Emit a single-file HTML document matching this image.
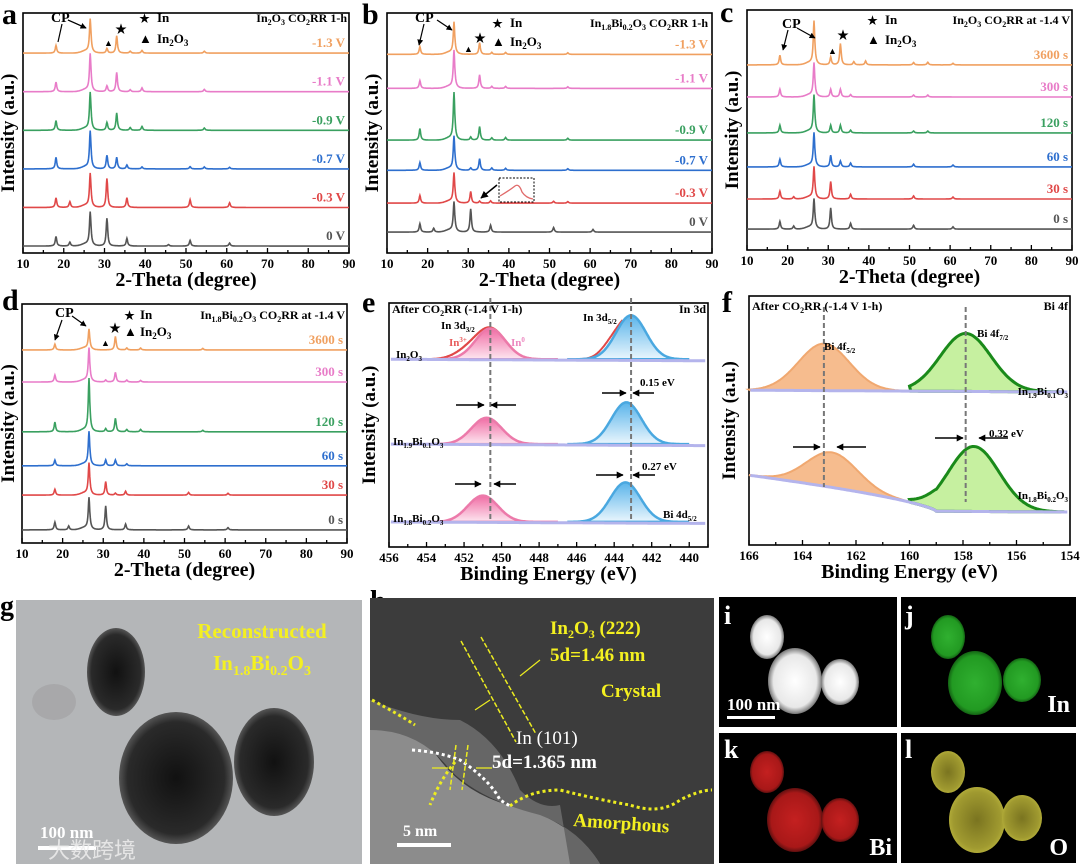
<!DOCTYPE html>
<html><head><meta charset="utf-8"><style>
body{margin:0;background:#fff}
svg{display:block;font-family:"Liberation Serif","Noto Serif CJK SC",serif;font-weight:bold}
</style></head><body>
<svg id="fig" width="1080" height="864" viewBox="0 0 1080 864" xmlns="http://www.w3.org/2000/svg">
<defs>
<marker id="ah" viewBox="0 0 10 10" refX="9" refY="5" markerWidth="5" markerHeight="5" orient="auto"><path d="M0 0 L10 5 L0 10 Z" fill="#000"/></marker>
<linearGradient id="gPink" x1="0" y1="0" x2="0" y2="1"><stop offset="0" stop-color="#f06ca4"/><stop offset="1" stop-color="#fde6f0"/></linearGradient>
<linearGradient id="gBlue" x1="0" y1="0" x2="0" y2="1"><stop offset="0" stop-color="#5ab4ea"/><stop offset="1" stop-color="#eaf6fd"/></linearGradient>
<radialGradient id="gBall" cx="0.5" cy="0.5" r="0.5"><stop offset="0" stop-color="#111"/><stop offset="0.85" stop-color="#2a2a2a"/><stop offset="1" stop-color="#555"/></radialGradient>
<radialGradient id="gWhite" cx="0.5" cy="0.5" r="0.5"><stop offset="0" stop-color="#fff"/><stop offset="0.8" stop-color="#e8e8e8"/><stop offset="1" stop-color="#777"/></radialGradient>
<radialGradient id="gGreen" cx="0.5" cy="0.5" r="0.5"><stop offset="0" stop-color="#30b030"/><stop offset="0.85" stop-color="#229a22"/><stop offset="1" stop-color="#146414"/></radialGradient>
<radialGradient id="gRed" cx="0.5" cy="0.5" r="0.5"><stop offset="0" stop-color="#c42020"/><stop offset="0.85" stop-color="#a81818"/><stop offset="1" stop-color="#601010"/></radialGradient>
<radialGradient id="gYel" cx="0.5" cy="0.5" r="0.5"><stop offset="0" stop-color="#7a7420"/><stop offset="0.85" stop-color="#a09a30"/><stop offset="1" stop-color="#b0aa38"/></radialGradient>
</defs>
<g id="plots"></g>

<g font-size="13">
<text x="2" y="24" font-size="30">a</text>
<text x="51" y="22" font-size="14">CP</text>
<path d="M62 24 L58 42 M68 20 L86 28" stroke="#000" stroke-width="1.2" fill="none" marker-end="url(#ah)"/>
<path d="M68 20 L86 28" stroke="#000" stroke-width="1.2" fill="none" marker-end="url(#ah)"/>
<text x="115" y="33" font-size="12">★</text>
<text x="104" y="46" font-size="9">▲</text>
<text x="139" y="22" font-size="11">★</text><text x="157" y="22">In</text>
<text x="139" y="43" font-size="13">▲</text><text x="157" y="43">In<tspan font-size="9" dy="3">2</tspan><tspan dy="-3">O</tspan><tspan font-size="9" dy="3">3</tspan></text>
<text x="347" y="22" text-anchor="end" font-size="12">In<tspan font-size="8" dy="3">2</tspan><tspan dy="-3">O</tspan><tspan font-size="8" dy="3">3</tspan><tspan dy="-3"> CO</tspan><tspan font-size="8" dy="3">2</tspan><tspan dy="-3">RR 1-h</tspan></text>
</g>
<g font-size="13">
<text x="362" y="24" font-size="30">b</text>
<text x="415" y="22" font-size="14">CP</text>
<path d="M424 24 L419 45" stroke="#000" stroke-width="1.2" fill="none" marker-end="url(#ah)"/>
<path d="M437 20 L452 30" stroke="#000" stroke-width="1.2" fill="none" marker-end="url(#ah)"/>
<text x="474" y="42" font-size="12">★</text>
<text x="464" y="52" font-size="9">▲</text>
<text x="492" y="27" font-size="11">★</text><text x="510" y="27">In</text>
<text x="492" y="46" font-size="13">▲</text><text x="510" y="46">In<tspan font-size="9" dy="3">2</tspan><tspan dy="-3">O</tspan><tspan font-size="9" dy="3">3</tspan></text>
<text x="708" y="27" text-anchor="end" font-size="12">In<tspan font-size="8" dy="3">1.8</tspan><tspan dy="-3">Bi</tspan><tspan font-size="8" dy="3">0.2</tspan><tspan dy="-3">O</tspan><tspan font-size="8" dy="3">3</tspan><tspan dy="-3"> CO</tspan><tspan font-size="8" dy="3">2</tspan><tspan dy="-3">RR 1-h</tspan></text>
<rect x="499" y="178" width="35" height="24" fill="none" stroke="#000" stroke-width="1" stroke-dasharray="2,1.5"/>
<path d="M500 196 Q510 190 515 186 Q519 183 522 192 Q526 198 533 199" stroke="#e06a6a" stroke-width="1.3" fill="none"/>
<path d="M497 185 L481 198" stroke="#000" stroke-width="1.5" fill="none" marker-end="url(#ah)"/>
</g>
<g font-size="13">
<text x="720" y="22" font-size="30">c</text>
<text x="782" y="28" font-size="14">CP</text>
<path d="M788 30 L783 50" stroke="#000" stroke-width="1.2" fill="none" marker-end="url(#ah)"/>
<path d="M797 28 L815 38" stroke="#000" stroke-width="1.2" fill="none" marker-end="url(#ah)"/>
<text x="837" y="39" font-size="12">★</text>
<text x="828" y="54" font-size="9">▲</text>
<text x="867" y="24" font-size="11">★</text><text x="885" y="24">In</text>
<text x="867" y="44" font-size="13">▲</text><text x="885" y="44">In<tspan font-size="9" dy="3">2</tspan><tspan dy="-3">O</tspan><tspan font-size="9" dy="3">3</tspan></text>
<text x="1070" y="24" text-anchor="end" font-size="12">In<tspan font-size="8" dy="3">2</tspan><tspan dy="-3">O</tspan><tspan font-size="8" dy="3">3</tspan><tspan dy="-3"> CO</tspan><tspan font-size="8" dy="3">2</tspan><tspan dy="-3">RR at -1.4 V</tspan></text>
</g>
<g font-size="13">
<text x="2" y="310" font-size="30">d</text>
<text x="55" y="317" font-size="14">CP</text>
<path d="M62 320 L55 340" stroke="#000" stroke-width="1.2" fill="none" marker-end="url(#ah)"/>
<path d="M72 316 L86 326" stroke="#000" stroke-width="1.2" fill="none" marker-end="url(#ah)"/>
<text x="109" y="332" font-size="12">★</text>
<text x="101" y="346" font-size="9">▲</text>
<text x="124" y="319" font-size="11">★</text><text x="140" y="319">In</text>
<text x="124" y="336" font-size="13">▲</text><text x="140" y="336">In<tspan font-size="9" dy="3">2</tspan><tspan dy="-3">O</tspan><tspan font-size="9" dy="3">3</tspan></text>
<text x="345" y="319" text-anchor="end" font-size="12">In<tspan font-size="8" dy="3">1.8</tspan><tspan dy="-3">Bi</tspan><tspan font-size="8" dy="3">0.2</tspan><tspan dy="-3">O</tspan><tspan font-size="8" dy="3">3</tspan><tspan dy="-3"> CO</tspan><tspan font-size="8" dy="3">2</tspan><tspan dy="-3">RR at -1.4 V</tspan></text>
</g>
<g font-size="11">
<text x="362" y="312" font-size="30">e</text>
<text x="392" y="313" font-size="12">After CO<tspan font-size="8" dy="3">2</tspan><tspan dy="-3">RR (-1.4 V 1-h)</tspan></text>
<text x="706" y="313" text-anchor="end" font-size="12">In 3d</text>
<text x="441" y="329">In 3d<tspan font-size="7" dy="3">3/2</tspan></text>
<text x="449" y="346" fill="#e85a5a">In<tspan font-size="7" dy="-4">3+</tspan></text>
<text x="511" y="346" fill="#ec88c0">In<tspan font-size="7" dy="-4">0</tspan></text>
<text x="396" y="358">In<tspan font-size="7" dy="3">2</tspan><tspan dy="-3">O</tspan><tspan font-size="7" dy="3">3</tspan></text>
<text x="583" y="321">In 3d<tspan font-size="7" dy="3">5/2</tspan></text>
<text x="640" y="386">0.15 eV</text>
<text x="642" y="470">0.27 eV</text>
<text x="393" y="445">In<tspan font-size="7" dy="3">1.9</tspan><tspan dy="-3">Bi</tspan><tspan font-size="7" dy="3">0.1</tspan><tspan dy="-3">O</tspan><tspan font-size="7" dy="3">3</tspan></text>
<text x="393" y="522">In<tspan font-size="7" dy="3">1.8</tspan><tspan dy="-3">Bi</tspan><tspan font-size="7" dy="3">0.2</tspan><tspan dy="-3">O</tspan><tspan font-size="7" dy="3">3</tspan></text>
<text x="663" y="518">Bi 4d<tspan font-size="7" dy="3">5/2</tspan></text>
</g>
<g font-size="11">
<text x="722" y="312" font-size="30">f</text>
<text x="752" y="310" font-size="12">After CO<tspan font-size="8" dy="3">2</tspan><tspan dy="-3">RR (-1.4 V 1-h)</tspan></text>
<text x="1068" y="310" text-anchor="end" font-size="12">Bi 4f</text>
<text x="824" y="350">Bi 4f<tspan font-size="7" dy="3">5/2</tspan></text>
<text x="977" y="337">Bi 4f<tspan font-size="7" dy="3">7/2</tspan></text>
<text x="1068" y="395" text-anchor="end">In<tspan font-size="7" dy="3">1.9</tspan><tspan dy="-3">Bi</tspan><tspan font-size="7" dy="3">0.1</tspan><tspan dy="-3">O</tspan><tspan font-size="7" dy="3">3</tspan></text>
<text x="1068" y="499" text-anchor="end">In<tspan font-size="7" dy="3">1.8</tspan><tspan dy="-3">Bi</tspan><tspan font-size="7" dy="3">0.2</tspan><tspan dy="-3">O</tspan><tspan font-size="7" dy="3">3</tspan></text>
<text x="989" y="437">0.32 eV</text>
</g>

<g>
<text x="0" y="615" font-size="28">g</text>
<rect x="16" y="600" width="346" height="264" fill="#b4b6b8"/>
<ellipse cx="54" cy="702" rx="22" ry="18" fill="#a8a8aa"/>
<ellipse cx="116" cy="672" rx="29" ry="44" fill="url(#gBall)"/>
<ellipse cx="176" cy="778" rx="57" ry="66" fill="url(#gBall)"/>
<ellipse cx="274" cy="762" rx="40" ry="54" fill="url(#gBall)"/>
<text x="262" y="638" text-anchor="middle" font-size="21" fill="#f4f020">Reconstructed</text>
<text x="262" y="670" text-anchor="middle" font-size="21" fill="#f4f020">In<tspan font-size="14" dy="5">1.8</tspan><tspan dy="-5">Bi</tspan><tspan font-size="14" dy="5">0.2</tspan><tspan dy="-5">O</tspan><tspan font-size="14" dy="5">3</tspan></text>
<text x="40" y="838" font-size="17" fill="#fff">100 nm</text>
<rect x="38" y="846" width="58" height="4" fill="#fff"/>
<text x="48" y="858" font-size="22" fill="#eeeeee" font-weight="normal" font-family="Noto Sans CJK SC, sans-serif" opacity="0.85">大数跨境</text>
</g>
<g>
<text x="370" y="610" font-size="28">h</text>
<rect x="370" y="598" width="344" height="266" fill="#3c3c3c"/>
<path d="M370 700 Q410 720 440 760 Q470 800 530 810 Q580 830 600 864 L370 864 Z" fill="#8c8c8c"/>
<path d="M370 700 Q420 720 460 720 Q500 740 520 790 Q540 810 560 805 L570 864 L600 864 Q580 830 540 815 Q480 800 450 770 Q420 730 370 730 Z" fill="#666"/>
<path d="M372 700 Q400 715 415 725 M455 762 Q440 780 430 805" stroke="#ecec20" stroke-width="3" stroke-dasharray="3,3" fill="none"/>
<path d="M510 806 Q530 790 560 790 Q600 800 630 805 Q660 815 680 800 Q700 790 712 790" stroke="#ecec20" stroke-width="3" stroke-dasharray="3,3" fill="none"/>
<path d="M412 750 Q440 752 460 760 Q490 780 500 800 L510 806" stroke="#fff" stroke-width="3" stroke-dasharray="3,3" fill="none"/>
<path d="M461 641 L516 742 M481 637 L536 734 M456 745 L450 790 M468 745 L462 790" stroke="#ecec20" stroke-width="1.5" stroke-dasharray="5,2" fill="none"/>
<path d="M540 660 L520 676 M490 700 L475 710 M432 768 L448 768 M476 768 L492 768" stroke="#ecec20" stroke-width="1.2" fill="none"/>
<text x="550" y="634" font-size="19" fill="#f4f020">In<tspan font-size="12" dy="4">2</tspan><tspan dy="-4">O</tspan><tspan font-size="12" dy="4">3</tspan><tspan dy="-4"> (222)</tspan></text>
<text x="550" y="661" font-size="19" fill="#f4f020">5d=1.46 nm</text>
<text x="601" y="697" font-size="19" fill="#f4f020">Crystal</text>
<text x="516" y="744" font-size="19" fill="#fff" font-weight="normal">In (101)</text>
<text x="492" y="768" font-size="19" fill="#fff">5d=1.365 nm</text>
<text x="573" y="826" font-size="19" fill="#f4f020" transform="rotate(4 573 826)">Amorphous</text>
<text x="403" y="836" font-size="16" fill="#fff">5 nm</text>
<rect x="397" y="843" width="54" height="4" fill="#fff"/>
</g>
<g>
<rect x="719" y="597" width="178" height="130" fill="#000"/>
<ellipse cx="767" cy="637" rx="17" ry="22" fill="url(#gWhite)"/>
<ellipse cx="795" cy="681" rx="27" ry="33" fill="url(#gWhite)"/>
<ellipse cx="840" cy="682" rx="19" ry="23" fill="url(#gWhite)"/>
<text x="724" y="624" font-size="26" fill="#fff">i</text>
<text x="727" y="710" font-size="17" fill="#fff">100 nm</text>
<rect x="727" y="716" width="48" height="3" fill="#fff"/>
</g>
<g>
<rect x="901" y="597" width="175" height="130" fill="#000"/>
<ellipse cx="948" cy="637" rx="17" ry="22" fill="url(#gGreen)"/>
<ellipse cx="975" cy="683" rx="27" ry="32" fill="url(#gGreen)"/>
<ellipse cx="1022" cy="680" rx="19" ry="22" fill="url(#gGreen)"/>
<text x="905" y="624" font-size="26" fill="#fff">j</text>
<text x="1070" y="712" text-anchor="end" font-size="24" fill="#fff">In</text>
</g>
<g>
<rect x="719" y="733" width="178" height="130" fill="#000"/>
<ellipse cx="767" cy="772" rx="17" ry="21" fill="url(#gRed)"/>
<ellipse cx="795" cy="820" rx="28" ry="32" fill="url(#gRed)"/>
<ellipse cx="840" cy="820" rx="19" ry="22" fill="url(#gRed)"/>
<text x="724" y="758" font-size="26" fill="#fff">k</text>
<text x="892" y="855" text-anchor="end" font-size="24" fill="#fff">Bi</text>
</g>
<g>
<rect x="901" y="733" width="175" height="130" fill="#000"/>
<ellipse cx="948" cy="772" rx="17" ry="21" fill="url(#gYel)"/>
<ellipse cx="977" cy="820" rx="28" ry="33" fill="url(#gYel)"/>
<ellipse cx="1022" cy="818" rx="20" ry="23" fill="url(#gYel)"/>
<text x="905" y="758" font-size="26" fill="#fff">l</text>
<text x="1068" y="855" text-anchor="end" font-size="24" fill="#fff">O</text>
</g>
</svg>
<script>
const xrdTicks = [10,20,30,40,50,60,70,80,90];
const aLabels = ['0 V','-0.3 V','-0.7 V','-0.9 V','-1.1 V','-1.3 V'];
const aOffsets = [0,1,2,3,4,5];
const aPeaks = [
 [[18.1,0.25],[21.5,0.1],[26.5,0.85],[30.6,0.72],[35.5,0.2],[45.7,0.04],[51,0.15],[60.7,0.08]],
 [[18.1,0.25],[21.5,0.15],[26.5,0.85],[30.6,0.75],[35.5,0.25],[51,0.2],[60.7,0.12]],
 [[18.1,0.3],[26.5,0.95],[30.6,0.35],[33,0.3],[35.5,0.1],[39.2,0.05],[51,0.06],[54.5,0.05],[60.7,0.04]],
 [[18.1,0.25],[26.5,0.95],[30.6,0.2],[33,0.45],[36.3,0.07],[39.2,0.1],[54.5,0.06]],
 [[18.1,0.25],[26.5,0.95],[30.6,0.15],[33,0.5],[36.3,0.05],[39.2,0.1],[54.5,0.06]],
 [[18.1,0.2],[26.5,0.85],[30.6,0.12],[33,0.45],[36.3,0.05],[39.2,0.07],[54.5,0.05]]
];
const bLabels = ['0 V','-0.3 V','-0.7 V','-0.9 V','-1.1 V','-1.3 V'];
const bOffsets = [0,0.75,1.6,2.38,3.72,4.6];
const bPeaks = [
 [[18.1,0.22],[21.5,0.1],[26.5,0.75],[30.6,0.6],[35.5,0.18],[51,0.12],[60.7,0.07]],
 [[18.1,0.2],[26.5,0.75],[30.6,0.3],[32.8,0.05],[35.5,0.06],[51,0.05],[54.5,0.04]],
 [[18.1,0.2],[26.5,0.85],[30.6,0.06],[32.8,0.3],[35.8,0.06],[39.2,0.05],[54.5,0.04]],
 [[18.1,0.3],[26.5,1.2],[30.6,0.08],[32.8,0.35],[35.8,0.06],[39.2,0.07],[54.5,0.05]],
 [[18.1,0.2],[26.5,0.95],[32.8,0.35],[35.8,0.05],[39.2,0.05],[54.5,0.04]],
 [[18.1,0.2],[26.5,0.8],[32.8,0.3],[35.8,0.05],[39.2,0.05],[54.5,0.04]]
];
const cLabels = ['0 s','30 s','60 s','120 s','300 s','3600 s'];
const cOffsets = [0,0.78,1.61,2.49,3.42,4.25];
const cPeaks = [
 [[18.1,0.2],[21.5,0.08],[26.5,0.75],[30.6,0.55],[35.5,0.15],[51,0.1],[60.7,0.06]],
 [[18.1,0.2],[21.5,0.06],[26.5,0.8],[30.6,0.45],[35.5,0.12],[51,0.08],[60.7,0.05]],
 [[18.1,0.2],[26.5,0.85],[30.6,0.3],[33,0.15],[35.5,0.1],[51,0.07],[60.7,0.05]],
 [[18.1,0.2],[26.5,0.95],[30.6,0.2],[33,0.2],[35.5,0.07],[51,0.05],[54.5,0.05]],
 [[18.1,0.2],[26.5,0.85],[30.6,0.2],[33,0.2],[35.5,0.06],[51,0.05],[54.5,0.05]],
 [[18.1,0.25],[26.5,1.1],[30.6,0.2],[33,0.55],[36.3,0.08],[39.2,0.1],[51,0.06],[54.5,0.07],[60.7,0.04]]
];
const dLabels = ['0 s','30 s','60 s','120 s','300 s','3600 s'];
const dOffsets = [0,0.9,1.66,2.54,3.83,4.66];
const dPeaks = [
 [[18.1,0.2],[21.5,0.1],[26.5,0.8],[30.6,0.62],[35.5,0.15],[51,0.1],[60.7,0.06]],
 [[18.1,0.15],[26.5,0.8],[30.6,0.35],[33,0.05],[35.5,0.1],[51,0.07],[60.7,0.05]],
 [[18.1,0.15],[26.5,0.85],[30.6,0.15],[33,0.15],[35.8,0.05]],
 [[18.1,0.25],[26.5,1.35],[30.6,0.08],[33,0.35],[35.8,0.06],[39.2,0.06],[54.5,0.04]],
 [[18.1,0.18],[26.5,0.85],[30.6,0.05],[33,0.25],[35.8,0.05],[39.2,0.04]],
 [[18.1,0.15],[26.5,0.5],[33,0.35],[35.8,0.05],[39.2,0.05],[54.5,0.04]]
];
const xrdColors = ['#555555','#e04848','#2e6fce','#3aa060','#e87cc8','#f0a060'];

const eTicks = [456,454,452,450,448,446,444,442,440];
const eOffsets = [3.7,1.77,0];
const e32Pos = [450.6,450.8,451.0];
const e32H = [0.7,0.6,0.6];
const e52Pos = [443.1,443.35,443.4];
const e52H = [1.0,0.95,0.9];
const fTicks = [166,164,162,160,158,156,154];
const fOffsets = [2.4,0];
const f52Pos = [163.2,162.9];
const f52H = [0.94,0.7];
const f72Pos = [157.9,157.6];
const f72H = [1.16,1.3];
const fBg = [0,0.7];

const NS='http://www.w3.org/2000/svg';
const root=document.getElementById('plots');
function el(tag,parent){const e=document.createElementNS(NS,tag);parent.appendChild(e);return e;}
function scaleX(p,v){return p.x0+(v-p.dmin)/(p.dmax-p.dmin)*(p.x1-p.x0);}
function scaleY(p,v){return p.y1-(v-p.ymin)/(p.ymax-p.ymin)*(p.y1-p.y0);}

function axes(p,ticks,minorStep,title,name){
  const g=el('g',root);
  
  
  const fr=el('rect',g);
  
  
  fr.setAttribute('x',p.x0);fr.setAttribute('y',p.y0);fr.setAttribute('width',p.x1-p.x0);fr.setAttribute('height',p.y1-p.y0);
  fr.setAttribute('fill','none');fr.setAttribute('stroke','#000');fr.setAttribute('stroke-width','1.6');
  const lo=Math.min(p.dmin,p.dmax),hi=Math.max(p.dmin,p.dmax);
  let d='';
  for(let v=lo;v<=hi+1e-6;v+=minorStep){const x=scaleX(p,v);const major=ticks.some(t=>Math.abs(t-v)<1e-6);d+='M'+x+' '+p.y1+' L'+x+' '+(p.y1-(major?5:3));}
  const tk=el('path',g);
  
  
  tk.setAttribute('d',d);tk.setAttribute('stroke','#000');tk.setAttribute('stroke-width','1.3');
  ticks.forEach(t=>{const tx=el('text',g);
    
    
    tx.setAttribute('x',scaleX(p,t));tx.setAttribute('y',p.y1+15);tx.setAttribute('text-anchor','middle');tx.setAttribute('font-size','13');tx.textContent=t;});
  const xt=el('text',g);
  
  
  xt.setAttribute('x',(p.x0+p.x1)/2);xt.setAttribute('y',p.y1+33);xt.setAttribute('text-anchor','middle');xt.setAttribute('font-size','20');xt.textContent=title;
  const yt=el('text',g);
  
  
  const cy=(p.y0+p.y1)/2,cx=p.x0-(p.yl||10);
  yt.setAttribute('x',cx);yt.setAttribute('y',cy);yt.setAttribute('text-anchor','middle');yt.setAttribute('font-size','19');
  yt.setAttribute('transform','rotate(-90 '+cx+' '+cy+')');yt.textContent='Intensity (a.u.)';
}

function xrdPanel(p,name,labels,offsets,peaks){
  axes(p,xrdTicks,5,'2-Theta (degree)',name);
  peaks.forEach((pk,i)=>{
    let d='';
    for(let x=10;x<=90.001;x+=0.1){
      let y=offsets[i]+0.06*Math.exp(-Math.pow((x-25.6)/1.6,2));
      pk.forEach(q=>{const w=0.22;y+=q[1]*w*w/((x-q[0])*(x-q[0])+w*w);});
      d+=(d?'L':'M')+scaleX(p,x).toFixed(1)+' '+scaleY(p,y).toFixed(1);
    }
    const path=el('path',root);
    
    
    path.setAttribute('d',d);path.setAttribute('fill','none');path.setAttribute('stroke',xrdColors[i]);path.setAttribute('stroke-width','1.6');
    const t=el('text',root);
    
    
    t.setAttribute('x',p.x1-4);t.setAttribute('y',scaleY(p,offsets[i])-6);t.setAttribute('text-anchor','end');t.setAttribute('font-size','13');t.setAttribute('fill',xrdColors[i]);t.textContent=labels[i];
  });
}
xrdPanel({x0:23,x1:349,y0:13,y1:253,dmin:10,dmax:90,ymin:-0.18,ymax:6.04,yl:9},'panel-a',aLabels,aOffsets,aPeaks);
xrdPanel({x0:387,x1:712,y0:13,y1:253,dmin:10,dmax:90,ymin:-0.54,ymax:5.67,yl:9},'panel-b',bLabels,bOffsets,bPeaks);
xrdPanel({x0:747,x1:1072,y0:10,y1:250,dmin:10,dmax:90,ymin:-0.54,ymax:5.67,yl:9},'panel-c',cLabels,cOffsets,cPeaks);
xrdPanel({x0:22,x1:347,y0:304,y1:543,dmin:10,dmax:90,ymin:-0.34,ymax:5.85,yl:8},'panel-d',dLabels,dOffsets,dPeaks);

function gauss(x,c,h,s){return h*Math.exp(-0.5*Math.pow((x-c)/s,2));}
function curvePath(p,x0,x1,fn,close,base){
  let d='';const st=(x1>x0?1:-1)*0.05;
  for(let x=x0;(st>0?x<=x1:x>=x1);x+=st){d+=(d?'L':'M')+scaleX(p,x).toFixed(1)+' '+scaleY(p,fn(x)).toFixed(1);}
  if(close){d+='L'+scaleX(p,x1).toFixed(1)+' '+scaleY(p,base(x1)).toFixed(1);
    for(let x=x1;(st>0?x>=x0:x<=x0);x-=st){d+='L'+scaleX(p,x).toFixed(1)+' '+scaleY(p,base(x)).toFixed(1);}d+='Z';}
  return d;
}
function addPath(name,d,fill,stroke,sw,extra){
  const e=el('path',root);
  
  
  e.setAttribute('d',d);e.setAttribute('fill',fill);e.setAttribute('stroke',stroke);e.setAttribute('stroke-width',sw);
  if(extra)e.setAttribute('stroke-dasharray',extra);
  return e;
}
function arrow(name,x1,y1,x2,y2){
  const a=addPath(name,'M'+x1+' '+y1+' L'+x2+' '+y2,'none','#000','1.4');
  a.setAttribute('marker-end','url(#ah)');
}

const pe={x0:389,x1:708,y0:303,y1:547,dmin:456,dmax:439,ymin:-0.57,ymax:4.98,yl:14};
axes(pe,eTicks,1,'Binding Energy (eV)','panel-e');
eOffsets.forEach((o,i)=>{
  const s=0.8;const base=x=>o;
  if(i===0){
    addPath('panel-e-in3plus-32',curvePath(pe,454,449.5,x=>o+gauss(x,451.9,0.14,0.7)+gauss(x,e32Pos[i],e32H[i],s),false),'none','#e04848','2.2');
    addPath('panel-e-in3plus-52',curvePath(pe,446.5,442.5,x=>o+gauss(x,444.3,0.12,0.5),false),'none','#5050e0','2');
    addPath('panel-e-in3plus-52b',curvePath(pe,446.5,443.5,x=>o+gauss(x,444.3,0.12,0.5)+gauss(x,e52Pos[i],e52H[i],s),false),'none','#e04848','2');
  }
  addPath('panel-e-in3d32-peak',curvePath(pe,454,447,x=>o+gauss(x,e32Pos[i],e32H[i],s),true,base),'url(#gPink)','#ec7aaa','2.5');
  addPath('panel-e-in3d52-peak',curvePath(pe,446.5,440,x=>o+gauss(x,e52Pos[i],e52H[i],s),true,base),'url(#gBlue)','#4aa8e0','2.5');
  addPath('panel-e-baseline',curvePath(pe,455.9,439.1,x=>o-0.004*(456-x)*0.5,false),'none','#b4b4ec','3');
});
addPath('panel-e-ref-line-32','M'+scaleX(pe,450.6)+' 298 L'+scaleX(pe,450.6)+' 522','none','#777','2','5,3');
addPath('panel-e-ref-line-52','M'+scaleX(pe,443.1)+' 298 L'+scaleX(pe,443.1)+' 522','none','#777','2','5,3');
arrow('panel-e-arrow',456,405,484,405);arrow('panel-e-arrow',516,405,491,405);
arrow('panel-e-arrow',602,393,626,393);arrow('panel-e-arrow',654,393,633,393);
arrow('panel-e-arrow',455,484,481,484);arrow('panel-e-arrow',516,484,494,484);
arrow('panel-e-arrow',596,475,623,475);arrow('panel-e-arrow',655,475,633,475);

const pf={x0:749,x1:1070,y0:296,y1:545,dmin:166,dmax:154,ymin:-0.66,ymax:4.32,yl:14};
axes(pf,fTicks,1,'Binding Energy (eV)','panel-f');
fOffsets.forEach((o,i)=>{
  const s=0.95;
  const base=x=>o+(x>159?fBg[i]*Math.pow((x-159)/7,0.7):0)+0.003*(x-154);
  addPath('panel-f-bi4f52-peak',curvePath(pf,166,160,x=>base(x)+gauss(x,f52Pos[i],f52H[i],s),true,base),'#f6bc8e','#f0a870','2');
  addPath('panel-f-bi4f72-peak',curvePath(pf,160,154.2,x=>base(x)+gauss(x,f72Pos[i],f72H[i],s),true,base),'#c6f0a0','#1a8a1a','3');
  addPath('panel-f-baseline',curvePath(pf,165.95,154.05,base,false),'none','#b4b4ec','3');
});
addPath('panel-f-ref-line-52','M'+scaleX(pf,163.2)+' 307 L'+scaleX(pf,163.2)+' 487','none','#777','2','5,3');
addPath('panel-f-ref-line-72','M'+scaleX(pf,157.9)+' 307 L'+scaleX(pf,157.9)+' 502','none','#777','2','5,3');
arrow('panel-f-arrow',793,447,820,447);arrow('panel-f-arrow',866,447,837,447);
arrow('panel-f-arrow',935,438,963,438);arrow('panel-f-arrow',1008,438,979,438);
</script>
</body></html>
